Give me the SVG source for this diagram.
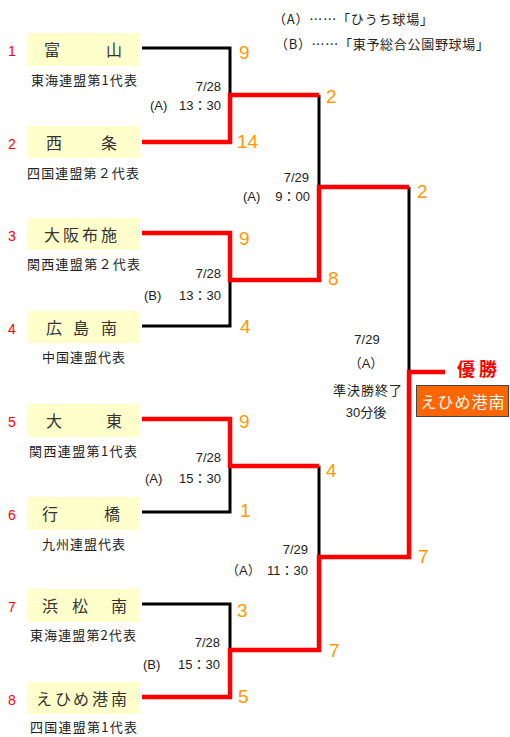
<svg xmlns="http://www.w3.org/2000/svg" width="510" height="737" viewBox="0 0 510 737">
<style>
.box{fill:#FFFFCC}
.nm{font-family:"Noto Sans CJK JP",sans-serif;font-size:16px;fill:#333}
.sub{font-family:"Noto Sans CJK JP",sans-serif;font-size:13px;fill:#222}
.seed{font-family:"Liberation Sans",sans-serif;font-size:14px;fill:#FF0000}
.sc{font-family:"Liberation Sans",sans-serif;font-size:19px;fill:#FF9900}
.info{font-family:"Liberation Sans","Noto Sans CJK JP",sans-serif;font-size:13px;fill:#222}
.blk{fill:none;stroke:#000;stroke-width:3}
.red{fill:none;stroke:#FF0000;stroke-width:4.5;stroke-linejoin:miter}
</style>
<rect width="510" height="737" fill="#fff"/>
<g id="legend">
<text class="sub" x="273" y="24" textLength="160">（A）……「ひうち球場」</text>
<text class="sub" x="275" y="49" textLength="214">（B）……「東予総合公園野球場」</text>
</g>
<g id="connectors">
<path class="blk" d="M142,48 H230 V95"/>
<path class="blk" d="M142,326 H230 V280"/>
<path class="blk" d="M142,512 H230 V466"/>
<path class="blk" d="M142,604 H230 V650"/>
<path class="blk" d="M319,95 V187"/>
<path class="blk" d="M319,466 V557"/>
<path class="blk" d="M409,187 V372"/>
<path class="red" d="M142,142 H230 V95 H319"/>
<path class="red" d="M142,233 H230 V280 H319 V187 H409"/>
<path class="red" d="M142,419 H230 V466 H319"/>
<path class="red" d="M142,697 H230 V650 H319 V557 H409 V372 H445"/>
</g>
<g id="team1">
<rect class="box" x="27" y="33" width="113" height="33"/>
<text class="seed" x="8" y="56">1</text>
<text class="nm" x="44 106" y="56">富山</text>
<text class="sub" x="31" y="85" textLength="106">東海連盟第1代表</text>
</g>
<g id="team2">
<rect class="box" x="27" y="126" width="113" height="32"/>
<text class="seed" x="8" y="149">2</text>
<text class="nm" x="46 101" y="149">西条</text>
<text class="sub" x="27" y="178" textLength="112">四国連盟第２代表</text>
</g>
<g id="team3">
<rect class="box" x="27" y="218" width="113" height="32"/>
<text class="seed" x="8" y="241">3</text>
<text class="nm" x="44 63 82 101" y="241">大阪布施</text>
<text class="sub" x="27" y="269" textLength="113">関西連盟第２代表</text>
</g>
<g id="team4">
<rect class="box" x="27" y="311" width="113" height="32"/>
<text class="seed" x="8" y="334">4</text>
<text class="nm" x="46 73 101" y="334">広島南</text>
<text class="sub" x="42" y="362" textLength="83">中国連盟代表</text>
</g>
<g id="team5">
<rect class="box" x="27" y="404" width="113" height="33"/>
<text class="seed" x="8" y="427">5</text>
<text class="nm" x="46 106" y="427">大東</text>
<text class="sub" x="29" y="456" textLength="108">関西連盟第1代表</text>
</g>
<g id="team6">
<rect class="box" x="27" y="497" width="113" height="33"/>
<text class="seed" x="8" y="520">6</text>
<text class="nm" x="42 104" y="520">行橋</text>
<text class="sub" x="42" y="549" textLength="83">九州連盟代表</text>
</g>
<g id="team7">
<rect class="box" x="27" y="589" width="113" height="33"/>
<text class="seed" x="8" y="612">7</text>
<text class="nm" x="42 72 111" y="612">浜松南</text>
<text class="sub" x="30" y="640" textLength="106">東海連盟第2代表</text>
</g>
<g id="team8">
<rect class="box" x="27" y="682" width="113" height="32"/>
<text class="seed" x="8" y="705">8</text>
<text class="nm" x="36 55 73 92 111" y="705">えひめ港南</text>
<text class="sub" x="30" y="732" textLength="107">四国連盟第1代表</text>
</g>
<g id="scores">
<text class="sc" x="239" y="59">9</text>
<text class="sc" x="237" y="148">14</text>
<text class="sc" x="239" y="245">9</text>
<text class="sc" x="240" y="333">4</text>
<text class="sc" x="239" y="428">9</text>
<text class="sc" x="240" y="517">1</text>
<text class="sc" x="237" y="617">3</text>
<text class="sc" x="238" y="703">5</text>
<text class="sc" x="326" y="103">2</text>
<text class="sc" x="328" y="285">8</text>
<text class="sc" x="326" y="477">4</text>
<text class="sc" x="329" y="657">7</text>
<text class="sc" x="417" y="198">2</text>
<text class="sc" x="418" y="563">7</text>
</g>
<g id="match1">
<text class="info" x="221" y="91" text-anchor="end">7/28</text>
<text class="info" x="150" y="110">(A)</text>
<text class="info" x="221" y="110" text-anchor="end">13：30</text>
</g>
<g id="match2">
<text class="info" x="221" y="278" text-anchor="end">7/28</text>
<text class="info" x="144" y="300">(B)</text>
<text class="info" x="221" y="300" text-anchor="end">13：30</text>
</g>
<g id="match3">
<text class="info" x="221" y="462" text-anchor="end">7/28</text>
<text class="info" x="145" y="483">(A)</text>
<text class="info" x="221" y="483" text-anchor="end">15：30</text>
</g>
<g id="match4">
<text class="info" x="220" y="647" text-anchor="end">7/28</text>
<text class="info" x="143" y="669">(B)</text>
<text class="info" x="220" y="669" text-anchor="end">15：30</text>
</g>
<g id="match5">
<text class="info" x="309" y="182" text-anchor="end">7/29</text>
<text class="info" x="243" y="201">(A)</text>
<text class="info" x="310" y="201" text-anchor="end">9：00</text>
</g>
<g id="match6">
<text class="info" x="308" y="554" text-anchor="end">7/29</text>
<text class="info" x="226" y="575">（A）</text>
<text class="info" x="308" y="575" text-anchor="end">11：30</text>
</g>
<g id="final">
<text class="info" x="367" y="344" text-anchor="middle">7/29</text>
<text class="info" x="366" y="368" text-anchor="middle">（A）</text>
<text class="sub" x="368" y="395" text-anchor="middle" letter-spacing="1">準決勝終了</text>
<text class="info" x="366" y="417" text-anchor="middle">30分後</text>
</g>
<g id="champion">
<text x="479" y="376" text-anchor="middle" letter-spacing="4" style="font-family:'Noto Sans CJK JP',sans-serif;font-size:18px;font-weight:bold;fill:#FF0000">優勝</text>
<rect x="416.5" y="385.5" width="92" height="31" fill="#FF6600" stroke="#444" stroke-width="1"/>
<text x="463" y="408" text-anchor="middle" letter-spacing="1" style="font-family:'Noto Sans CJK JP',sans-serif;font-size:16px;fill:#fff">えひめ港南</text>
</g>
</svg>
